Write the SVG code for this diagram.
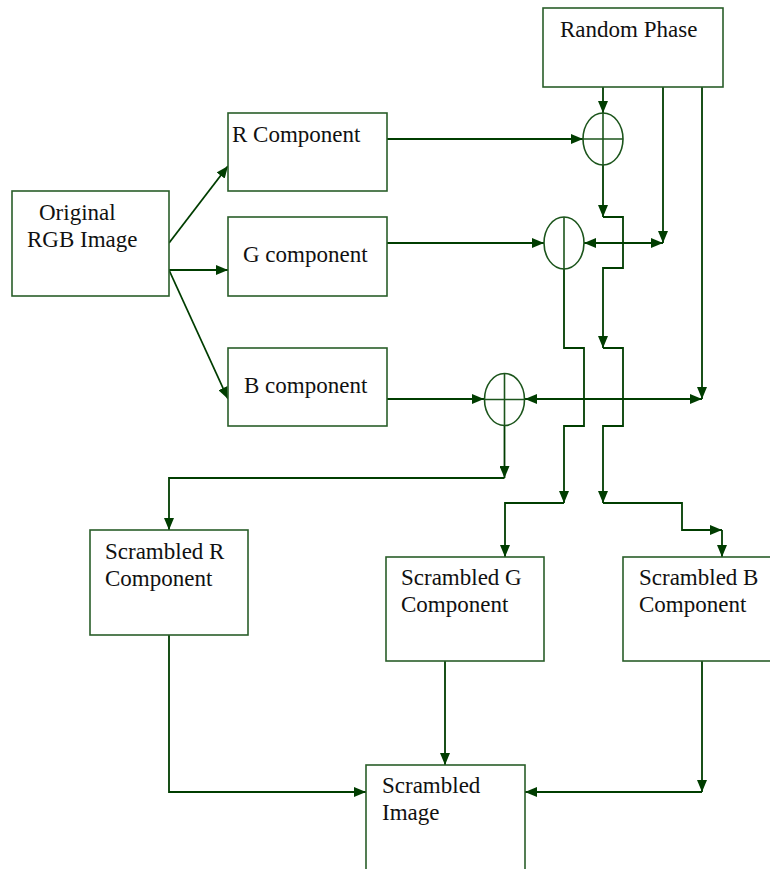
<svg xmlns="http://www.w3.org/2000/svg" width="770" height="869" viewBox="0 0 770 869">
<defs>
<marker id="ah" viewBox="0 0 12 10" refX="12" refY="5" markerWidth="12" markerHeight="10" markerUnits="userSpaceOnUse" orient="auto-start-reverse">
<path d="M0,0 L12,5 L0,10 z" fill="#003d00"/>
</marker>
<style>
.box{fill:#fff;stroke:#2a5e2a;stroke-width:1.6}
.sum{fill:none;stroke:#1c551c;stroke-width:1.6}
.ln{fill:none;stroke:#003d00;stroke-width:1.8}
.ar{marker-end:url(#ah)}
.da{marker-start:url(#ah);marker-end:url(#ah)}
.t{font-family:'Liberation Serif','DejaVu Serif',serif;font-size:23px;fill:#111}
</style>
</defs>
<rect width="770" height="869" fill="#fff"/>

<g id="connectors">
<path class="ln ar" d="M169,243 L228,166"/>
<path class="ln ar" d="M169,270 H228"/>
<path class="ln ar" d="M169,270 L228,399"/>
<path class="ln ar" d="M387,139 H583"/>
<path class="ln ar" d="M387,243 H544"/>
<path class="ln ar" d="M387,399 H484"/>
<path class="ln ar" d="M603,87 V113"/>
<path class="ln ar" d="M663,87 V243"/>
<path class="ln ar" d="M702,87 V399"/>
<path class="ln da" d="M584,243 H663"/>
<path class="ln da" d="M525,399 H702"/>
<path class="ln ar" d="M603,165 V217"/>
<path class="ln ar" d="M603,217 H623 V268 H603 V348"/>
<path class="ln ar" d="M603,348 H623 V426 H603 V503"/>
<path class="ln ar" d="M603,503 H682 V530 H722"/>
<path class="ln ar" d="M722,530 V557"/>
<path class="ln ar" d="M564,269 V348 H584 V426 H564 V503"/>
<path class="ln ar" d="M564,503 H505 V557"/>
<path class="ln ar" d="M504.5,426 V478"/>
<path class="ln ar" d="M504.5,478 H169 V530"/>
<path class="ln ar" d="M169,635 V792 H366"/>
<path class="ln ar" d="M445,661 V765"/>
<path class="ln ar" d="M702,661 V792"/>
<path class="ln ar" d="M702,792 H525"/>
</g>

<g id="random-phase">
<rect class="box" x="543" y="8" width="180" height="79"/>
<text class="t" x="560" y="37" font-family="'Liberation Serif', serif">Random Phase</text>
</g>

<g id="original">
<rect class="box" x="12" y="191" width="157" height="105"/>
<text class="t" x="39" y="220" font-family="'Liberation Serif', serif">Original</text>
<text class="t" x="27" y="247" font-family="'Liberation Serif', serif">RGB Image</text>
</g>

<g id="r-component">
<rect class="box" x="228" y="113" width="159" height="78"/>
<text class="t" x="232" y="142" font-family="'Liberation Serif', serif">R Component</text>
</g>

<g id="g-component">
<rect class="box" x="228" y="217" width="159" height="79"/>
<text class="t" x="243" y="262" font-family="'Liberation Serif', serif">G component</text>
</g>

<g id="b-component">
<rect class="box" x="228" y="348" width="159" height="78"/>
<text class="t" x="244" y="393" font-family="'Liberation Serif', serif">B component</text>
</g>

<g id="mixer-r">
<ellipse class="sum" cx="603" cy="139" rx="20" ry="26"/>
<path class="sum" d="M583,139 H623 M603,113 V165"/>
</g>

<g id="mixer-g">
<ellipse class="sum" cx="564" cy="243" rx="20" ry="26"/>
<path class="sum" d="M564,217 V269"/>
</g>

<g id="mixer-b">
<ellipse class="sum" cx="504.5" cy="399.5" rx="20" ry="26"/>
<path class="sum" d="M484.5,399.5 H524.5 M504.5,373.5 V425.5"/>
</g>

<g id="scrambled-r">
<rect class="box" x="90" y="530" width="158" height="105"/>
<text class="t" x="105" y="559" font-family="'Liberation Serif', serif">Scrambled R</text>
<text class="t" x="105" y="586" font-family="'Liberation Serif', serif">Component</text>
</g>

<g id="scrambled-g">
<rect class="box" x="386" y="557" width="158" height="104"/>
<text class="t" x="401" y="585" font-family="'Liberation Serif', serif">Scrambled G</text>
<text class="t" x="401" y="612" font-family="'Liberation Serif', serif">Component</text>
</g>

<g id="scrambled-b">
<rect class="box" x="623" y="557" width="160" height="104"/>
<text class="t" x="639" y="585" font-family="'Liberation Serif', serif">Scrambled B</text>
<text class="t" x="639" y="612" font-family="'Liberation Serif', serif">Component</text>
</g>

<g id="scrambled-image">
<rect class="box" x="366" y="765" width="159" height="115"/>
<text class="t" x="382" y="793" font-family="'Liberation Serif', serif">Scrambled</text>
<text class="t" x="382" y="820" font-family="'Liberation Serif', serif">Image</text>
</g>
</svg>
